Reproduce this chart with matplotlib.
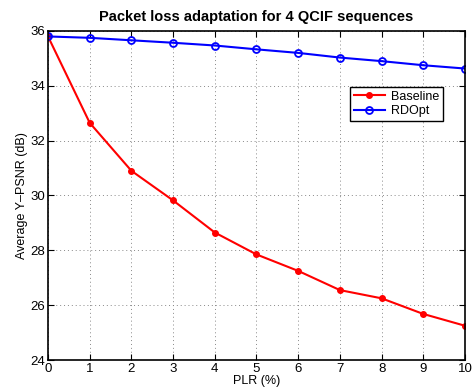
import matplotlib
matplotlib.use("Agg")
import matplotlib.pyplot as plt

plt.rcParams["font.family"] = ["Liberation Sans", "DejaVu Sans"]

# data
plr = [0, 1, 2, 3, 4, 5, 6, 7, 8, 9, 10]
baseline = [35.8, 32.65, 30.9, 29.82, 28.65, 27.85, 27.25, 26.55, 26.25, 25.68, 25.25]
rdopt = [35.8, 35.75, 35.66, 35.57, 35.47, 35.33, 35.2, 35.03, 34.9, 34.75, 34.63]
yticks = [24, 26, 28, 30, 32, 34, 36]

fig = plt.figure(figsize=(4.73, 3.92), dpi=100)
ax = fig.add_axes([0.1015, 0.0816, 0.8815, 0.8394])

ax.plot(plr, baseline, color="red", marker="o", markersize=4, linewidth=1.5,
        label="Baseline")
ax.plot(plr, rdopt, color="blue", marker="o", markersize=5, markerfacecolor="none",
        markeredgewidth=1.3, linewidth=1.5, label="RDOpt")

ax.set_xlim(0, 10)
ax.set_ylim(24, 36)
ax.set_xticks(plr)
ax.set_yticks(yticks)
ax.tick_params(direction="in", top=True, right=True, labelsize=9.5, length=4, pad=2)
ax.grid(True, linestyle=(0, (1, 3)), color="#888888", linewidth=0.7)
for s in ax.spines.values():
    s.set_linewidth(1.2)

ax.set_xlabel("PLR (%)", fontsize=9, labelpad=0)
ax.set_ylabel("Average Y\u2013PSNR (dB)", fontsize=9, labelpad=2)
ax.set_title("Packet loss adaptation for 4 QCIF sequences", fontsize=10.5,
             fontweight="bold", pad=7)

leg = ax.legend(loc="upper right", bbox_to_anchor=(0.948, 0.83), fontsize=9,
                fancybox=False, framealpha=1, edgecolor="black",
                borderpad=0.3, labelspacing=0.2, handlelength=2.5,
                handletextpad=0.5, borderaxespad=0)
leg.get_frame().set_linewidth(1.0)

fig.savefig("out.png", dpi=100)
